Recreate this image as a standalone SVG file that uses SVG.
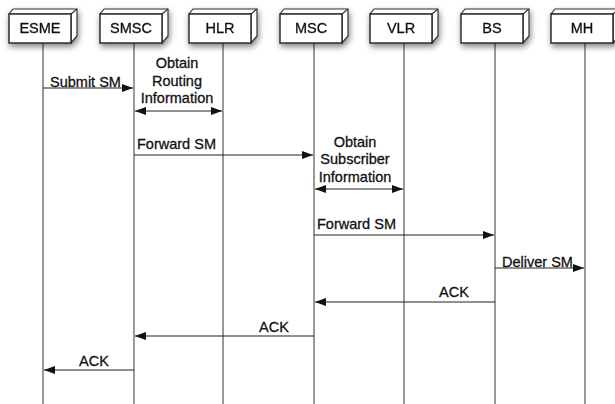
<svg xmlns="http://www.w3.org/2000/svg" width="615" height="404" viewBox="0 0 615 404">
<defs>
<marker id="ah" viewBox="0 0 11 8" refX="11" refY="4" markerWidth="11" markerHeight="8" markerUnits="userSpaceOnUse" orient="auto-start-reverse">
<path d="M0,0 L11,4 L0,8 z" fill="#111"/>
</marker>
<filter id="sh" x="-30%" y="-40%" width="160%" height="190%">
<feGaussianBlur in="SourceAlpha" stdDeviation="3"/>
<feOffset dx="1" dy="3" result="b"/>
<feComponentTransfer><feFuncA type="linear" slope="0.5"/></feComponentTransfer>
<feMerge><feMergeNode/><feMergeNode in="SourceGraphic"/></feMerge>
</filter>
<g id="box">
<path d="M0,5 L4,0 L68,0 L68,27 L62,34 L62,5 Z" fill="#fff" stroke="#333" stroke-width="1.2" stroke-linejoin="round"/>
<path d="M62,5 L68,0" stroke="#333" stroke-width="1.2"/>
<rect x="0" y="5" width="62" height="29" fill="#fff" stroke="#222" stroke-width="1.4"/>
</g>
</defs>
<style>
text{font-family:"Liberation Sans",Arial,sans-serif;font-size:14.5px;fill:#111;stroke:#111;stroke-width:0.3}
.lbl{text-anchor:middle}
.life{stroke:#555;stroke-width:1.2}
.msg{stroke:#222;stroke-width:1.2;fill:none;marker-end:url(#ah)}
.dbl{stroke:#222;stroke-width:1.2;fill:none;marker-end:url(#ah);marker-start:url(#ah)}
</style>
<rect width="615" height="404" fill="#fff"/>
<g id="lifelines">
<line class="life" x1="43" y1="43" x2="43" y2="404"/>
<line class="life" x1="134" y1="43" x2="134" y2="404"/>
<line class="life" x1="223" y1="43" x2="223" y2="404"/>
<line class="life" x1="314" y1="43" x2="314" y2="404"/>
<line class="life" x1="404" y1="43" x2="404" y2="404"/>
<line class="life" x1="495" y1="43" x2="495" y2="404"/>
<line class="life" x1="585" y1="43" x2="585" y2="404"/>
</g>
<g id="esme" filter="url(#sh)"><use href="#box" x="9" y="9"/><text class="lbl" x="40" y="33">ESME</text></g>
<g id="smsc" filter="url(#sh)"><use href="#box" x="100" y="9"/><text class="lbl" x="131" y="33">SMSC</text></g>
<g id="hlr" filter="url(#sh)"><use href="#box" x="189" y="9"/><text class="lbl" x="220" y="33">HLR</text></g>
<g id="msc" filter="url(#sh)"><use href="#box" x="280" y="9"/><text class="lbl" x="311" y="33">MSC</text></g>
<g id="vlr" filter="url(#sh)"><use href="#box" x="370" y="9"/><text class="lbl" x="401" y="33">VLR</text></g>
<g id="bs" filter="url(#sh)"><use href="#box" x="461" y="9"/><text class="lbl" x="492" y="33">BS</text></g>
<g id="mh" filter="url(#sh)"><use href="#box" x="551" y="9"/><text class="lbl" x="582" y="33">MH</text></g>
<g id="connectors">
<line class="msg" x1="43" y1="88" x2="133" y2="88"/>
<line class="dbl" x1="135" y1="111" x2="222" y2="111"/>
<line class="msg" x1="134" y1="155" x2="313" y2="155"/>
<line class="dbl" x1="315" y1="189" x2="403" y2="189"/>
<line class="msg" x1="314" y1="235" x2="494" y2="235"/>
<line class="msg" x1="495" y1="268" x2="584" y2="268"/>
<line class="msg" x1="495" y1="302" x2="315" y2="302"/>
<line class="msg" x1="314" y1="336" x2="135" y2="336"/>
<line class="msg" x1="134" y1="370" x2="44" y2="370"/>
</g>
<g id="labels">
<text x="50" y="87">Submit SM</text>
<text class="lbl" x="177" y="68">Obtain</text>
<text class="lbl" x="177" y="86">Routing</text>
<text class="lbl" x="177" y="103">Information</text>
<text x="137" y="149">Forward SM</text>
<text class="lbl" x="355" y="147">Obtain</text>
<text class="lbl" x="355" y="164">Subscriber</text>
<text class="lbl" x="355" y="182">Information</text>
<text x="317" y="229">Forward SM</text>
<text x="502" y="267">Deliver SM</text>
<text class="lbl" x="454" y="297">ACK</text>
<text class="lbl" x="274" y="332">ACK</text>
<text class="lbl" x="94" y="366">ACK</text>
</g>
</svg>
